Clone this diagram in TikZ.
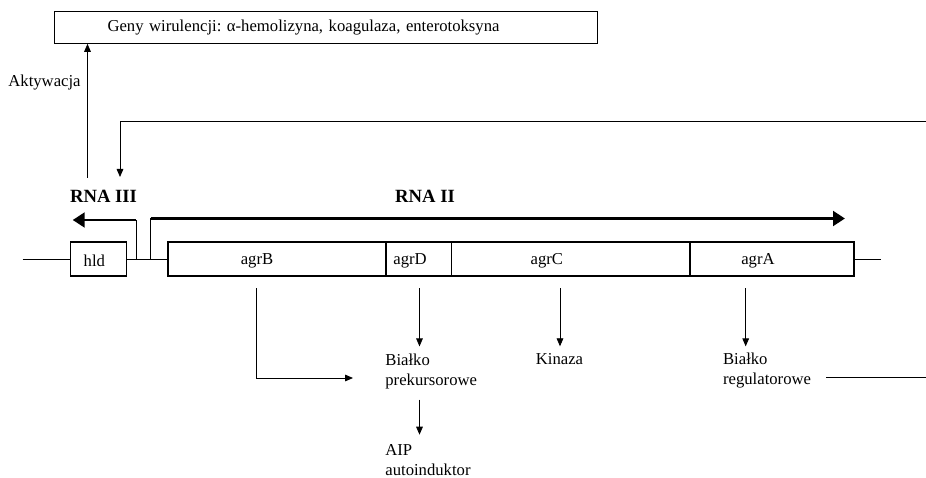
\documentclass[tikz,border=0pt]{standalone}
\usepackage{fontspec}
\setmainfont{Liberation Serif}
\usetikzlibrary{arrows.meta,positioning}
\frenchspacing

\tikzset{every picture/.style={line width=0.6pt}}
\tikzset{
  txt/.style={font=\fontsize{12.5}{15}\selectfont, align=left, inner xsep=0pt, inner ysep=5pt},
  rnalabel/.style={font=\fontsize{14}{16}\selectfont\bfseries, inner sep=0pt},
  genebox/.style={draw, line width=0.8pt, minimum height=25.5pt, inner sep=0pt, outer sep=0pt, anchor=west},
  arr/.style={-{Triangle[length=6pt,width=5pt]}},
  thickarr/.style={line width=2.2pt, -{Triangle[length=9pt,width=11pt]}},
}

\begin{document}
\begin{tikzpicture}[x=0.75pt,y=0.75pt,yscale=-1]
  \useasboundingbox (0,0) rectangle (926,478);

  % virulence genes box
  \node (geny) [draw, line width=0.8pt, anchor=west, minimum height=23.7pt, inner xsep=39.75pt, text width=327.75pt, align=left, font=\fontsize{12.5}{15}\selectfont] at (54,27.5) {Geny wirulencji: α-hemolizyna, koagulaza, enterotoksyna};
  \node (akt) [txt, anchor=east] at (81,83) {Aktywacja};

  % operon
  \coordinate (dnaL) at (22.7,259);
  \coordinate (dnaR) at (880.7,259);
  \node (hld) [genebox, minimum width=41.5pt, label={[txt, xshift=-3pt, yshift=-1.5pt]center:hld}] at (70.7,259) {};
  \node (agrB) [genebox, minimum width=163.5pt, label={[txt, xshift=-15pt, yshift=-1.5pt]center:agrB}] at (168,259) {};
  \node (agrD) [genebox, minimum width=49.3pt, right=0pt of agrB, label={[txt, xshift=-6.6pt, yshift=-1.5pt]center:agrD}] {};
  \node (agrC) [genebox, minimum width=178.7pt, right=0pt of agrD, label={[txt, xshift=-18pt, yshift=-1.5pt]center:agrC}] {};
  \node (agrA) [genebox, minimum width=123pt, right=0pt of agrC, label={[txt, xshift=-10.5pt, yshift=-1.5pt]center:agrA}] {};

  \draw (dnaL) -- (hld.west);
  \draw (hld.east) -- (agrB.west);
  \draw (agrA.east) -- (dnaR);

  % transcripts
  \node (rna3) [rnalabel] at (103.5,196) {RNA III};
  \node (rna2) [rnalabel] at (425,196) {RNA II};
  \coordinate (p3) at (136,259);
  \coordinate (tip3) at (72.7,220);
  \coordinate (p2) at (150.7,259);
  \coordinate (tip2) at (845,218.5);
  \draw (p3) -- (p3 |- tip3);
  \draw [thickarr] (p3 |- tip3) -- (tip3);
  \draw (p2) -- (p2 |- tip2);
  \draw [thickarr] (p2 |- tip2) -- (tip2);

  % feedback and activation
  \coordinate (fbin) at (926,121);
  \coordinate (fbend) at (120,177);
  \draw [arr] (fbin) -| (fbend);
  \coordinate (aktstart) at (87.5,178);
  \draw [arr] (aktstart) -- (aktstart |- geny.south);

  % products
  \node (prek) [txt, anchor=west] at (385,371) {Białko\\prekursorowe};
  \node (kin) [txt] at (559.5,359) {Kinaza};
  \node (reg) [txt, anchor=west] at (722.7,371) {Białko\\regulatorowe};
  \node (aip) [txt, anchor=west] at (385,460) {AIP\\autoinduktor};

  \coordinate (agrBout) at (256,288);
  \coordinate (prekin) at (353,378);
  \coordinate (agrDout) at (419.5,288);
  \coordinate (agrCout) at (560,288);
  \coordinate (agrAout) at (745.7,288);
  \coordinate (regout) at (826,377);
  \coordinate (regR) at (926,377);

  \draw [arr] (agrBout) |- (prekin);
  \draw [arr] (agrDout) -- (agrDout |- prek.north);
  \draw [arr] (agrCout) -- (agrCout |- kin.north);
  \draw [arr] (agrAout) -- (agrAout |- reg.north);
  \draw [arr, shorten <=3pt, shorten >=2pt] (prek.south -| agrDout) -- (agrDout |- aip.north);
  \draw (regout) -- (regR);

\end{tikzpicture}
\end{document}
